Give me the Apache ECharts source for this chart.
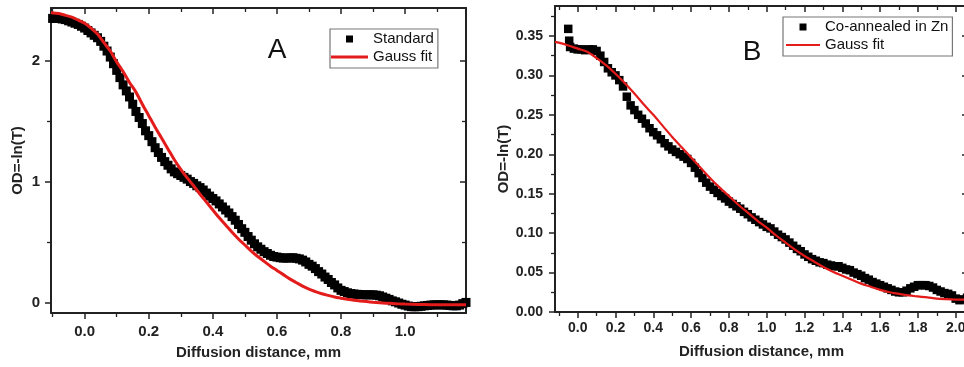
<!DOCTYPE html>
<html><head><meta charset="utf-8">
<script src="https://cdn.jsdelivr.net/npm/echarts@6/dist/echarts.min.js"></script>
<style>html,body{margin:0;padding:0;background:#fff}#c{width:964px;height:367px}</style>
</head><body><div id="c"></div>
<script>
// ---------- Panel A data (Standard) ----------
const standardData = [
[-0.10,2.35],[-0.09,2.35],[-0.08,2.35],[-0.07,2.345],[-0.06,2.34],[-0.05,2.33],[-0.04,2.32],[-0.03,2.31],[-0.02,2.30],[-0.01,2.285],
[0.00,2.27],[0.01,2.25],[0.02,2.23],[0.03,2.21],[0.04,2.19],[0.05,2.16],[0.06,2.12],[0.07,2.08],[0.08,2.03],[0.09,1.975],
[0.10,1.92],[0.11,1.86],[0.12,1.80],[0.13,1.75],[0.14,1.70],[0.15,1.64],[0.16,1.58],[0.17,1.53],[0.18,1.48],[0.19,1.42],
[0.20,1.38],[0.21,1.33],[0.22,1.28],[0.23,1.24],[0.24,1.20],[0.25,1.165],[0.26,1.135],[0.27,1.105],[0.28,1.08],[0.29,1.065],
[0.30,1.05],[0.31,1.035],[0.32,1.02],[0.33,1.00],[0.34,0.985],[0.35,0.965],[0.36,0.95],[0.37,0.93],[0.38,0.905],[0.39,0.88],
[0.40,0.86],[0.41,0.84],[0.42,0.815],[0.43,0.79],[0.44,0.765],[0.45,0.74],[0.46,0.71],[0.47,0.68],[0.48,0.645],[0.49,0.61],
[0.50,0.58],[0.51,0.545],[0.52,0.515],[0.53,0.485],[0.54,0.46],[0.55,0.44],[0.56,0.42],[0.57,0.405],[0.58,0.39],[0.59,0.38],
[0.60,0.375],[0.61,0.37],[0.62,0.367],[0.63,0.367],[0.64,0.368],[0.65,0.37],[0.66,0.365],[0.67,0.36],[0.68,0.35],[0.69,0.335],
[0.70,0.315],[0.71,0.30],[0.72,0.28],[0.73,0.255],[0.74,0.235],[0.75,0.21],[0.76,0.19],[0.77,0.165],[0.78,0.145],[0.79,0.12],
[0.80,0.10],[0.81,0.09],[0.82,0.08],[0.83,0.073],[0.84,0.07],[0.85,0.067],[0.86,0.065],[0.87,0.063],[0.88,0.063],[0.89,0.063],
[0.90,0.063],[0.91,0.06],[0.92,0.055],[0.93,0.045],[0.94,0.035],[0.95,0.025],[0.96,0.013],[0.97,0.005],[0.98,-0.005],[0.99,-0.015],
[1.00,-0.022],[1.01,-0.03],[1.02,-0.035],[1.03,-0.036],[1.04,-0.035],[1.05,-0.032],[1.06,-0.028],[1.07,-0.025],[1.08,-0.022],[1.09,-0.02],
[1.10,-0.02],[1.11,-0.02],[1.12,-0.02],[1.13,-0.022],[1.14,-0.025],[1.15,-0.028],[1.16,-0.028],[1.17,-0.022],[1.18,-0.01],[1.19,0.0]
];
const standardFit = [
[-0.105,2.397],[-0.08,2.39],[-0.06,2.375],[-0.04,2.36],[-0.02,2.335],[0.00,2.31],[0.02,2.27],[0.04,2.22],[0.06,2.15],[0.08,2.08],
[0.10,1.99],[0.12,1.91],[0.14,1.82],[0.16,1.74],[0.18,1.64],[0.20,1.545],[0.22,1.45],[0.24,1.36],[0.26,1.27],[0.28,1.18],
[0.30,1.10],[0.32,1.03],[0.34,0.965],[0.36,0.895],[0.38,0.83],[0.40,0.765],[0.42,0.70],[0.44,0.64],[0.46,0.58],[0.48,0.525],
[0.50,0.475],[0.52,0.425],[0.54,0.38],[0.56,0.34],[0.58,0.30],[0.60,0.265],[0.62,0.23],[0.64,0.195],[0.66,0.165],[0.68,0.135],
[0.70,0.11],[0.72,0.09],[0.74,0.072],[0.76,0.058],[0.78,0.045],[0.80,0.035],[0.82,0.026],[0.84,0.018],[0.86,0.012],[0.88,0.007],
[0.90,0.002],[0.92,-0.002],[0.94,-0.006],[0.96,-0.009],[0.98,-0.012],[1.00,-0.014],[1.04,-0.017],[1.08,-0.019],[1.12,-0.02],[1.16,-0.02],[1.19,-0.02]
];
// ---------- Panel B data (Co-annealed in Zn) ----------
const coData = [
[-0.05,0.359],[-0.045,0.344],[-0.04,0.336],[-0.02,0.334],[0.00,0.333],[0.02,0.333],[0.04,0.332],[0.06,0.333],[0.08,0.333],[0.10,0.331],
[0.12,0.325],[0.14,0.317],[0.16,0.309],[0.18,0.304],[0.20,0.300],[0.22,0.294],[0.24,0.286],[0.26,0.273],[0.28,0.262],[0.30,0.256],
[0.32,0.250],[0.34,0.245],[0.36,0.239],[0.38,0.233],[0.40,0.228],[0.42,0.224],[0.44,0.219],[0.46,0.214],[0.48,0.210],[0.50,0.206],
[0.52,0.203],[0.54,0.200],[0.56,0.197],[0.58,0.194],[0.60,0.189],[0.62,0.183],[0.64,0.176],[0.66,0.170],[0.68,0.164],[0.70,0.159],
[0.72,0.155],[0.74,0.151],[0.76,0.147],[0.78,0.144],[0.80,0.140],[0.82,0.137],[0.84,0.134],[0.86,0.131],[0.88,0.127],[0.90,0.124],
[0.92,0.120],[0.94,0.117],[0.96,0.114],[0.98,0.111],[1.00,0.108],[1.02,0.106],[1.04,0.102],[1.06,0.098],[1.08,0.095],[1.10,0.092],
[1.12,0.088],[1.14,0.084],[1.16,0.080],[1.18,0.077],[1.20,0.073],[1.22,0.070],[1.24,0.067],[1.26,0.065],[1.28,0.063],[1.30,0.062],
[1.32,0.060],[1.34,0.059],[1.36,0.058],[1.38,0.058],[1.40,0.056],[1.42,0.054],[1.44,0.053],[1.46,0.050],[1.48,0.048],[1.50,0.046],
[1.52,0.043],[1.54,0.041],[1.56,0.038],[1.58,0.036],[1.60,0.034],[1.62,0.032],[1.64,0.030],[1.66,0.028],[1.68,0.026],[1.70,0.025],
[1.72,0.025],[1.74,0.027],[1.76,0.030],[1.78,0.032],[1.80,0.034],[1.82,0.034],[1.84,0.034],[1.86,0.033],[1.88,0.031],[1.90,0.028],
[1.92,0.026],[1.94,0.024],[1.96,0.023],[1.98,0.021],[2.00,0.017],[2.02,0.015],[2.04,0.016],[2.06,0.018]
];
const coFit = [
[-0.12,0.3425],[-0.10,0.3415],[-0.05,0.338],[0.00,0.334],[0.05,0.330],[0.10,0.322],[0.15,0.313],[0.20,0.302],[0.25,0.290],[0.30,0.277],
[0.35,0.263],[0.40,0.250],[0.45,0.236],[0.50,0.222],[0.55,0.209],[0.60,0.196],[0.65,0.183],[0.70,0.170],[0.75,0.158],[0.80,0.147],
[0.85,0.136],[0.90,0.126],[0.95,0.116],[1.00,0.107],[1.05,0.097],[1.10,0.088],[1.15,0.079],[1.20,0.071],[1.25,0.064],[1.30,0.057],
[1.35,0.051],[1.40,0.046],[1.45,0.041],[1.50,0.036],[1.55,0.032],[1.60,0.028],[1.65,0.025],[1.70,0.023],[1.75,0.021],[1.80,0.0197],
[1.85,0.0185],[1.90,0.017],[1.95,0.0163],[2.00,0.0158],[2.065,0.0155]
];
// ---------- Tick labels ----------
const xTicksA = [0.0,0.2,0.4,0.6,0.8,1.0];
const yTicksA = [0,1,2];
const xTicksB = [0.0,0.2,0.4,0.6,0.8,1.0,1.2,1.4,1.6,1.8,2.0];
const yTicksB = [0.00,0.05,0.10,0.15,0.20,0.25,0.30,0.35];

const FONT = '"Liberation Sans", Arial, Helvetica, sans-serif';
const AX = '#222';
const RED = '#e41b1b';

function xAxisDef(grid, pos, min, max, split, ticks, fs, margin) {
  const bottom = pos === 'bottom';
  return {
    type: 'value', gridIndex: grid, position: pos, min: min, max: max, splitNumber: split,
    splitLine: {show: false},
    axisLine: {show: true, onZero: false, lineStyle: {color: AX, width: 2}},
    axisTick: {show: true, inside: !bottom, length: 6, customValues: ticks, lineStyle: {color: AX, width: 1.5}},
    minorTick: {show: true, splitNumber: 2, length: 4, lineStyle: {color: AX, width: 1.3}},
    axisLabel: {show: bottom, customValues: ticks, margin: margin, fontSize: fs, fontWeight: 'bold', color: AX,
      fontFamily: FONT, formatter: function (v) { return v.toFixed(1); }},
    name: bottom ? 'Diffusion distance, mm' : '', nameLocation: 'middle', nameGap: 32,
    nameTextStyle: {fontSize: 15, fontWeight: 'bold', color: AX, fontFamily: FONT}
  };
}
function yAxisDef(grid, pos, min, max, split, ticks, fs, margin, dec, nameGap) {
  const left = pos === 'left';
  return {
    type: 'value', gridIndex: grid, position: pos, min: min, max: max, splitNumber: split,
    splitLine: {show: false},
    axisLine: {show: true, onZero: false, lineStyle: {color: AX, width: 2}},
    axisTick: {show: true, inside: !left, length: 6, customValues: ticks, lineStyle: {color: AX, width: 1.5}},
    minorTick: {show: true, splitNumber: 2, length: 4, lineStyle: {color: AX, width: 1.3}},
    axisLabel: {show: left, customValues: ticks, margin: margin, fontSize: fs, fontWeight: 'bold', color: AX,
      fontFamily: FONT, formatter: function (v) { return v.toFixed(dec); }},
    name: left ? 'OD=-ln(T)' : '', nameLocation: 'middle', nameGap: nameGap, nameRotate: 90,
    nameTextStyle: {fontSize: 15, fontWeight: 'bold', color: AX, fontFamily: FONT}
  };
}

const chart = echarts.init(document.getElementById('c'), null, {renderer: 'canvas'});
chart.setOption({
  animation: false,
  backgroundColor: '#fff',
  textStyle: {fontFamily: FONT},
  grid: [
    {left: 51, top: 8, width: 415, height: 305, containLabel: false, outerBoundsMode: 'none'},
    {left: 555, top: 6, width: 413, height: 306, containLabel: false, outerBoundsMode: 'none'}
  ],
  xAxis: [
    xAxisDef(0, 'bottom', -0.105, 1.19, 6, xTicksA, 15, 11),
    xAxisDef(0, 'top', -0.105, 1.19, 6, xTicksA, 15, 11),
    xAxisDef(1, 'bottom', -0.12, 2.065, 10, xTicksB, 14, 9),
    xAxisDef(1, 'top', -0.12, 2.065, 10, xTicksB, 14, 9)
  ],
  yAxis: [
    yAxisDef(0, 'left', -0.0875, 2.436, 3, yTicksA, 15, 11, 0, 26),
    yAxisDef(0, 'right', -0.0875, 2.436, 3, yTicksA, 15, 11, 0, 26),
    yAxisDef(1, 'left', 0, 0.388, 8, yTicksB, 14, 12, 2, 44),
    yAxisDef(1, 'right', 0, 0.388, 8, yTicksB, 14, 12, 2, 44)
  ],
  legend: [
    {orient: 'vertical', left: 330, top: 29, padding: [1, 4, 2, 1], itemGap: 0, itemWidth: 37, itemHeight: 7,
     borderColor: '#777', borderWidth: 1.2, symbolKeepAspect: true, selectedMode: false,
     textStyle: {fontSize: 15, lineHeight: 18, color: '#111', fontFamily: FONT},
     data: [{name: 'Standard', icon: 'path://M0,0h10v10h-10z'}, {name: 'Gauss fit', icon: 'path://M0,0h40v3h-40z'}]},
    {orient: 'vertical', left: 783, top: 17, padding: [1, 4, 2, 3], itemGap: 0, itemWidth: 34, itemHeight: 7,
     borderColor: '#777', borderWidth: 1.2, symbolKeepAspect: true, selectedMode: false,
     textStyle: {fontSize: 15, lineHeight: 18, color: '#111', fontFamily: FONT},
     data: [{name: 'Co-annealed in Zn', icon: 'path://M0,0h10v10h-10z'}, {name: 'Gauss fit', icon: 'path://M0,0h40v2.6h-40z'}]}
  ],
  graphic: [
    {type: 'text', x: 277, y: 50, z: 10, style: {text: 'A', font: '28px ' + FONT, fill: '#111', textAlign: 'center', textVerticalAlign: 'middle'}},
    {type: 'text', x: 752, y: 52, z: 10, style: {text: 'B', font: '28px ' + FONT, fill: '#111', textAlign: 'center', textVerticalAlign: 'middle'}}
  ],
  series: [
    {name: 'Standard', type: 'scatter', xAxisIndex: 0, yAxisIndex: 0, data: standardData,
     symbol: 'rect', symbolSize: 9, itemStyle: {color: '#000', opacity: 1}, z: 2},
    {name: 'Gauss fit', type: 'line', xAxisIndex: 0, yAxisIndex: 0, data: standardFit, smooth: 0.3,
     showSymbol: false, lineStyle: {color: RED, width: 3}, itemStyle: {color: RED}, z: 3},
    {name: 'Co-annealed in Zn', type: 'scatter', xAxisIndex: 2, yAxisIndex: 2, data: coData,
     symbol: 'rect', symbolSize: 8.5, itemStyle: {color: '#000', opacity: 1}, z: 2},
    {name: 'Gauss fit', type: 'line', xAxisIndex: 2, yAxisIndex: 2, data: coFit, smooth: 0.3,
     showSymbol: false, lineStyle: {color: RED, width: 2.2}, itemStyle: {color: RED}, z: 3}
  ]
});
</script>
</body></html>
